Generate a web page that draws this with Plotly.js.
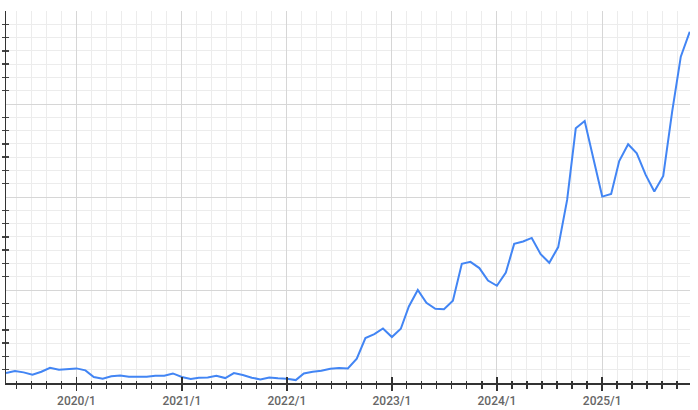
<!DOCTYPE html>
<html>
<head>
<meta charset="utf-8">
<script src="https://cdn.plot.ly/plotly-3.0.1.min.js"></script>
<style>html,body{margin:0;padding:0;background:#fff;}#chart{width:698px;height:410px;}</style>
</head>
<body>
<div id="chart"></div>
<script>
const months = [
  "2019-05-01","2019-06-01","2019-07-01","2019-08-01","2019-09-01","2019-10-01","2019-11-01","2019-12-01",
  "2020-01-01","2020-02-01","2020-03-01","2020-04-01","2020-05-01","2020-06-01","2020-07-01","2020-08-01","2020-09-01","2020-10-01","2020-11-01","2020-12-01",
  "2021-01-01","2021-02-01","2021-03-01","2021-04-01","2021-05-01","2021-06-01","2021-07-01","2021-08-01","2021-09-01","2021-10-01","2021-11-01","2021-12-01",
  "2022-01-01","2022-02-01","2022-03-01","2022-04-01","2022-05-01","2022-06-01","2022-07-01","2022-08-01","2022-09-01","2022-10-01","2022-11-01","2022-12-01",
  "2023-01-01","2023-02-01","2023-03-01","2023-04-01","2023-05-01","2023-06-01","2023-07-01","2023-08-01","2023-09-01","2023-10-01","2023-11-01","2023-12-01",
  "2024-01-01","2024-02-01","2024-03-01","2024-04-01","2024-05-01","2024-06-01","2024-07-01","2024-08-01","2024-09-01","2024-10-01","2024-11-01","2024-12-01",
  "2025-01-01","2025-02-01","2025-03-01","2025-04-01","2025-05-01","2025-06-01","2025-07-01","2025-08-01","2025-09-01","2025-10-01","2025-11-01"
];
const values = [
  0.75, 0.9, 0.8, 0.62, 0.85, 1.15, 1.0, 1.07,
  1.1, 0.95, 0.45, 0.32, 0.5, 0.57, 0.47, 0.47, 0.47, 0.55, 0.55, 0.72,
  0.45, 0.3, 0.4, 0.42, 0.55, 0.37, 0.75, 0.6, 0.4, 0.27, 0.42, 0.35,
  0.32, 0.22, 0.72, 0.85, 0.92, 1.07, 1.12, 1.1, 1.83, 3.38, 3.68, 4.1,
  3.46, 4.08, 5.76, 7.0, 6.04, 5.59, 5.56, 6.19, 8.97, 9.12, 8.65, 7.71,
  7.32, 8.32, 10.47, 10.65, 10.92, 9.7, 9.05, 10.23, 13.78, 19.17, 19.72, 16.92,
  14.03, 14.23, 16.7, 17.97, 17.29, 15.66, 14.41, 15.59, 20.42, 24.56, 26.44
];
const tickVals = ["2020-01-01","2021-01-01","2022-01-01","2023-01-01","2024-01-01","2025-01-01"];
const tickLabels = ["2020/1","2021/1","2022/1","2023/1","2024/1","2025/1"];

const xRange = ["2019-05-01", "2025-11-02"];
const yRange = [0, 28];
const minorX = 365.25 * 86400000 / 7;
const axisCol = "#333333";

const trace = {
  x: months, y: values, type: "scatter", mode: "lines",
  line: {color: "#4285F4", width: 2}, hoverinfo: "skip"
};
// dummy traces to activate overlay axes
const t2 = {x: [xRange[0]], y: [0], xaxis: "x2", yaxis: "y2", mode: "markers", marker: {opacity: 0}, hoverinfo: "skip", showlegend: false};

const layout = {
  width: 698, height: 410,
  margin: {l: 6, r: 8, t: 11, b: 27},
  paper_bgcolor: "#fff", plot_bgcolor: "#fff",
  showlegend: false,
  font: {family: "Roboto, sans-serif", size: 12, color: "#666"},
  xaxis: {
    type: "date", range: xRange, fixedrange: true,
    tickmode: "array", tickvals: tickVals, ticktext: tickLabels,
    ticks: "outside", ticklen: 6, tickwidth: 1.5, tickcolor: axisCol,
    showgrid: true, gridcolor: "#d6d6d6", gridwidth: 1,
    showline: true, linecolor: axisCol, linewidth: 1.5,
    zeroline: false,
    tickfont: {family: "Roboto, sans-serif", size: 12, color: "#666", weight: 500},
    minor: {tickmode: "linear", tick0: "2020-01-01", dtick: minorX, ticks: "outside", ticklen: 4, tickwidth: 1.2, tickcolor: axisCol, showgrid: true, gridcolor: "#ececec", gridwidth: 1}
  },
  xaxis2: {
    type: "date", range: xRange, overlaying: "x", anchor: "y", side: "bottom", fixedrange: true,
    tickmode: "array", tickvals: tickVals, ticktext: ["","","","","",""],
    ticks: "inside", ticklen: 6, tickwidth: 1.5, tickcolor: axisCol,
    showgrid: false, showline: false, zeroline: false, showticklabels: false,
    minor: {tickmode: "linear", tick0: "2020-01-01", dtick: minorX, ticks: "inside", ticklen: 2.5, tickwidth: 1.2, tickcolor: axisCol, showgrid: false}
  },
  yaxis: {
    range: yRange, fixedrange: true,
    tickmode: "linear", tick0: 0, dtick: 7,
    ticks: "", showticklabels: false,
    showgrid: true, gridcolor: "#d6d6d6", gridwidth: 1,
    showline: true, linecolor: axisCol, linewidth: 1.5,
    zeroline: false,
    minor: {tickmode: "linear", tick0: 0, dtick: 1, ticks: "outside", ticklen: 3, tickwidth: 1.5, tickcolor: "#444", showgrid: true, gridcolor: "#ececec", gridwidth: 1}
  },
  yaxis2: {
    range: yRange, overlaying: "y", anchor: "x", side: "left", fixedrange: true,
    tickmode: "linear", tick0: 0, dtick: 7,
    ticks: "", showticklabels: false, showgrid: false, showline: false, zeroline: false,
    minor: {tickmode: "linear", tick0: 0, dtick: 1, ticks: "inside", ticklen: 3, tickwidth: 1.5, tickcolor: "#444", showgrid: false}
  }
};

Plotly.newPlot("chart", [trace, t2], layout, {displayModeBar: false, staticPlot: true});
</script>
</body>
</html>
